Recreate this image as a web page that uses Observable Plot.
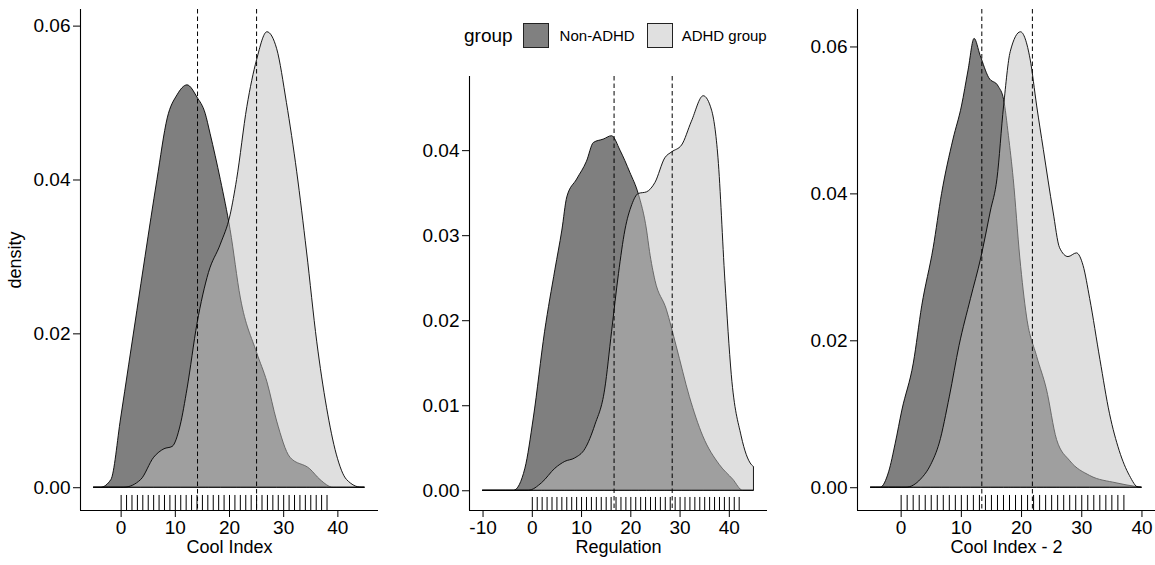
<!DOCTYPE html>
<html>
<head>
<meta charset="utf-8">
<script src="https://cdn.jsdelivr.net/npm/d3@7"></script>
<script src="https://cdn.jsdelivr.net/npm/@observablehq/plot@0.6"></script>
<style>
  html, body { margin: 0; padding: 0; background: #fff; }
  #wrap { position: relative; width: 1155px; height: 565px; overflow: hidden; font-family: "Liberation Sans", Arial, sans-serif; color: #000; }
  .panel { position: absolute; top: 0; }
  #legend { position: absolute; left: 464px; top: 22px; height: 27px; display: flex; align-items: center; white-space: nowrap; }
  #legend .title { font-size: 19px; margin-right: 10px; }
  #legend .key { width: 26px; height: 25px; border: 1px solid #222; box-sizing: border-box; }
  #legend .lab { font-size: 15px; }
</style>
</head>
<body>
<div id="wrap"></div>
<script>
// ---------- data ----------
const groups = ["Non-ADHD", "ADHD group"];
const groupFills = ["#000000", "#c0c0c0"];

// Panel 1: Cool Index — density curves as [x, density]
const coolNonADHD = [[-5,0],[-3.7,0],[-1.8,0.001],[0,0.009],[1.5,0.016],[3,0.023],[4.5,0.030],[6.7,0.040],[8.6,0.048],[10.4,0.051],[12.25,0.0523],[14.1,0.0507],[15.6,0.0486],[16.5,0.046],[18.4,0.040],[20.2,0.0335],[22.1,0.0246],[25.1,0.0175],[27,0.0137],[28.8,0.0086],[31.25,0.0039],[34.9,0.0024],[36.8,0.001],[39.2,0],[45,0]];
const coolADHD = [[-5,0],[0.6,0],[3.7,0.001],[6.1,0.0039],[8,0.005],[9.5,0.0053],[11,0.0081],[12.25,0.0128],[14.1,0.0213],[16.2,0.0279],[18.4,0.0316],[20.2,0.0354],[21.4,0.040],[23.3,0.0495],[25.1,0.0556],[27,0.0592],[28.8,0.057],[30.6,0.050],[32.5,0.041],[34.3,0.0307],[36.2,0.0189],[38,0.0104],[39.8,0.0043],[41.7,0.001],[44.4,0],[45,0]];
const coolMeans = [14.1, 25.0];
const coolRug = [0,1,2,3,4,5,6,7,8,9,10,11,12,13,14,15,16,17,18,19,20,21,22,23,24,25,26,27,28,29,30,31,32,33,34,35,36,37,38];

// Panel 2: Regulation
const regNonADHD = [[-10,0],[-3.7,0],[-1.4,0.0026],[0.3,0.0085],[2.6,0.0187],[4.7,0.026],[6.1,0.0306],[7.1,0.0345],[9.1,0.0366],[11.1,0.0387],[12.5,0.0409],[14.5,0.0413],[16.2,0.0417],[17.9,0.040],[19.9,0.0374],[21.6,0.0349],[23.3,0.0306],[23.9,0.0281],[25,0.0247],[27.3,0.0213],[29.3,0.017],[32,0.011],[34.7,0.0064],[38.1,0.003],[40.8,0.0013],[42.8,0],[45,0]];
const regADHD = [[-10,0],[-0.7,0],[2,0.0009],[4.7,0.0026],[6.7,0.0034],[8.7,0.0038],[10.8,0.0049],[12.8,0.0077],[14.8,0.0119],[16.2,0.0187],[17.6,0.0255],[18.9,0.0306],[20.3,0.0336],[21.6,0.0349],[23.3,0.0351],[25,0.0362],[27,0.0391],[28.4,0.0398],[30.4,0.0406],[32.4,0.0434],[34.8,0.0464],[36.5,0.0447],[37.8,0.0391],[39.2,0.0247],[40.5,0.0136],[42.5,0.0064],[44.6,0.003],[45,0.0028]];
const regMeans = [16.6, 28.4];
const regRug = [0,1,2,3,4,5,6,7,8,9,10,11,12,13,14,15,16,17,18,19,20,21,22,23,24,25,26,27,28,29,30,31,32,33,34,35,36,37,38,39,40,41,42];

// Panel 3: Cool Index - 2
const cool2NonADHD = [[-5,0],[-3.4,0],[-2,0.0021],[-0.9,0.006],[0.2,0.0105],[2.1,0.0169],[3.5,0.0247],[5.4,0.0326],[6.8,0.040],[8.7,0.0474],[10.1,0.0519],[11.2,0.0568],[12.2,0.0611],[13.2,0.0588],[14.6,0.0558],[16.2,0.0546],[17.1,0.0528],[17.9,0.0479],[18.7,0.042],[19.8,0.0312],[20.9,0.0233],[22.6,0.0178],[24.2,0.0134],[25.9,0.0065],[28.1,0.0036],[31.4,0.0016],[35.8,0.0006],[39.1,0.0001],[40,0]];
const cool2ADHD = [[-5,0],[0.9,0],[3.3,0.0011],[5,0.0031],[6.4,0.006],[8.1,0.0124],[9.7,0.0193],[11.6,0.0257],[13.3,0.0312],[14.9,0.0376],[16,0.042],[17.1,0.0519],[18.2,0.0593],[19.9,0.062],[21.5,0.0583],[22.6,0.0519],[23.7,0.046],[25.3,0.0376],[26.4,0.0326],[27.8,0.0314],[29.2,0.0319],[30.3,0.0302],[31.4,0.0257],[33.1,0.0174],[34.7,0.01],[36.3,0.005],[38,0.0016],[39.5,0],[40,0]];
const cool2Means = [13.4, 21.8];
const cool2Rug = [0,1,2,3,4,5,6,7,8,9,10,11,12,13,14,15,16,17,18,19,20,21,22,23,24,25,26,27,28,29,30,31,32,33,34,35,36,37];

const coolXTicks = [0, 10, 20, 30, 40];
const regXTicks = [-10, 0, 10, 20, 30, 40];
const cool2XTicks = [0, 10, 20, 30, 40];
const coolYTicks = [0, 0.02, 0.04, 0.06];
const regYTicks = [0, 0.01, 0.02, 0.03, 0.04];
const cool2YTicks = [0, 0.02, 0.04, 0.06];

// ---------- drawing ----------
function panel({series, rug, means, xTicks, yTicks, xLabel, yLabel, left, ml, mr, mt}) {
  const all = series.flat();
  const x0 = d3.min(all, p => p[0]), x1 = d3.max(all, p => p[0]), xr = x1 - x0;
  const ymax = d3.max(all, p => p[1]);
  const xDomain = [x0 - 0.05 * xr, x1 + 0.05 * xr];
  const yDomain = [-0.05 * ymax, 1.05 * ymax];
  const rugTop = yDomain[0] + 0.03 * (yDomain[1] - yDomain[0]);
  const marks = [];
  series.forEach((vals, i) => {
    marks.push(Plot.areaY(vals, {x: d => d[0], y: d => d[1], fill: groupFills[i], fillOpacity: 0.5,
      stroke: "#000", strokeWidth: 0.9, curve: "monotone-x"}));
  });
  marks.push(Plot.ruleX(means, {x: d => d, stroke: "#000", strokeWidth: 1, strokeDasharray: "4.5,3"}));
  marks.push(Plot.ruleX(rug, {x: d => d, y1: () => yDomain[0], y2: () => rugTop, stroke: "#000", strokeWidth: 1}));
  marks.push(Plot.ruleX([xDomain[0]], {stroke: "#000", strokeWidth: 1.1}));
  marks.push(Plot.ruleY([yDomain[0]], {stroke: "#000", strokeWidth: 1.1}));
  marks.push(Plot.axisX({ticks: xTicks, tickSize: 7, tickPadding: 3, tickFormat: d => String(d),
    label: null, fontSize: 19}));
  marks.push(Plot.axisX({ticks: [], tickSize: 0, label: xLabel, labelAnchor: "center", labelArrow: "none", labelOffset: 42, fontSize: 18}));
  marks.push(Plot.axisY({ticks: yTicks, tickSize: 7, tickPadding: 3, tickFormat: d3.format(".2f"),
    label: null, fontSize: 19}));
  if (yLabel) marks.push(Plot.axisY({ticks: [], tickSize: 0, label: yLabel, labelAnchor: "center", labelArrow: "none", labelOffset: 72, fontSize: 18}));
  const svg = Plot.plot({
    width: 385, height: 565,
    marginLeft: ml, marginRight: mr, marginTop: mt, marginBottom: 55,
    x: {domain: xDomain}, y: {domain: yDomain},
    style: {fontFamily: "'Liberation Sans', Arial, sans-serif", fontSize: "18px", color: "#000", background: "transparent", overflow: "visible"},
    marks
  });
  svg.classList.add("panel");
  svg.style.left = left + "px";
  document.getElementById("wrap").appendChild(svg);
}

panel({series: [coolNonADHD, coolADHD], rug: coolRug, means: coolMeans, xTicks: coolXTicks, yTicks: coolYTicks,
  xLabel: "Cool Index", yLabel: "density", left: 0, ml: 80, mr: 7, mt: 9});
panel({series: [regNonADHD, regADHD], rug: regRug, means: regMeans, xTicks: regXTicks, yTicks: regYTicks,
  xLabel: "Regulation", yLabel: null, left: 385, ml: 84, mr: 3, mt: 76});
panel({series: [cool2NonADHD, cool2ADHD], rug: cool2Rug, means: cool2Means, xTicks: cool2XTicks, yTicks: cool2YTicks,
  xLabel: "Cool Index - 2", yLabel: null, left: 770, ml: 87, mr: 0, mt: 9});

// legend
const legend = document.createElement("div");
legend.id = "legend";
const t = document.createElement("span"); t.className = "title"; t.textContent = "group"; legend.appendChild(t);
groups.forEach((g, i) => {
  const k = document.createElement("span"); k.className = "key";
  k.style.background = d3.interpolateRgb("#ffffff", groupFills[i])(0.5);
  k.style.marginRight = i === 0 ? "11px" : "9px";
  legend.appendChild(k);
  const l = document.createElement("span"); l.className = "lab"; l.textContent = g;
  l.style.marginRight = "12px";
  legend.appendChild(l);
});
document.getElementById("wrap").appendChild(legend);
</script>
</body>
</html>
